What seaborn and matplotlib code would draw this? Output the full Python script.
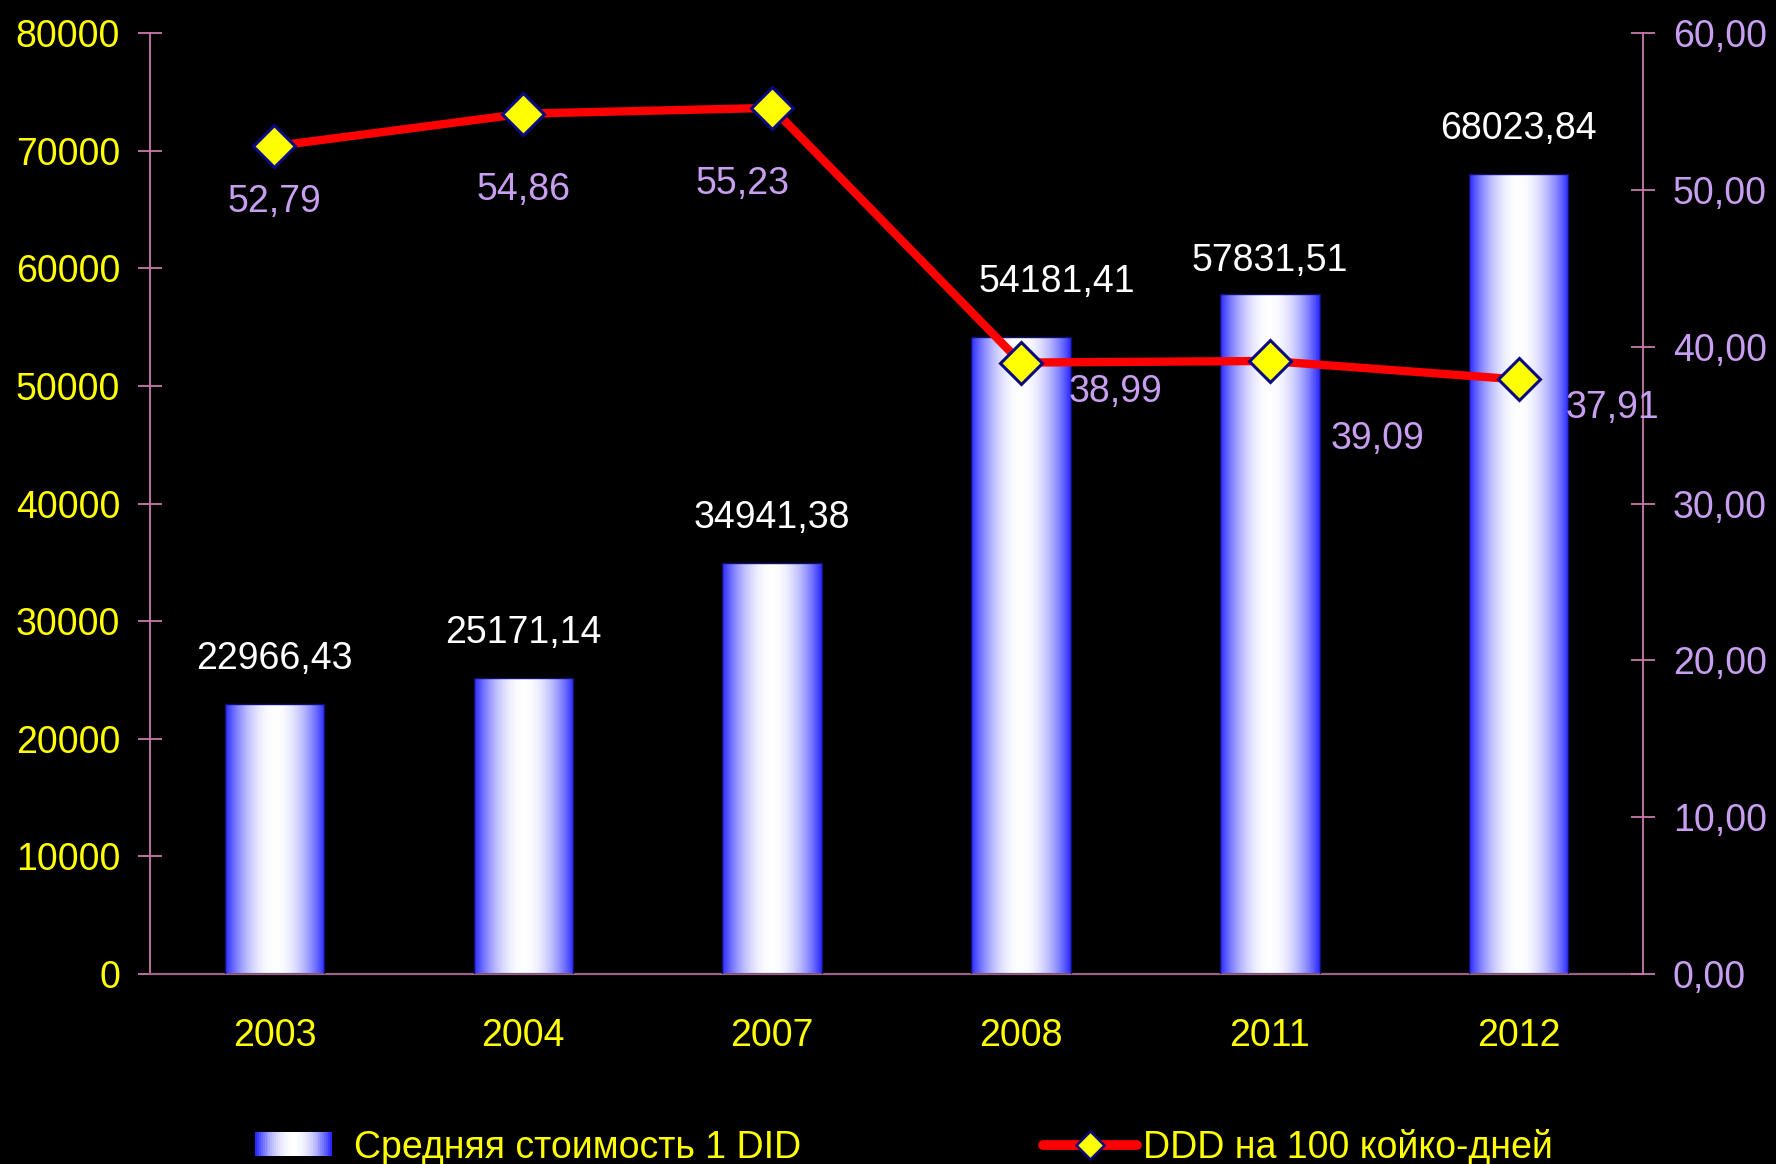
import numpy as np
import pandas as pd
import matplotlib
matplotlib.use("Agg")
import matplotlib.pyplot as plt
from matplotlib.patches import Rectangle
from matplotlib.lines import Line2D
from matplotlib.legend_handler import HandlerBase
import seaborn as sns

# ---- data ----
years = ["2003", "2004", "2007", "2008", "2011", "2012"]
avg_cost = [22966.43, 25171.14, 34941.38, 54181.41, 57831.51, 68023.84]
ddd_per_100 = [52.79, 54.86, 55.23, 38.99, 39.09, 37.91]
cost_label = "Средняя стоимость 1 DID"
ddd_label = "DDD на 100 койко-дней"

# label offsets in pixels (dx, dy)
cost_offsets = [(0, 45), (0, 45), (0, 45), (36, 55), (0, 33), (0, 45)]
ddd_offsets = [(0, -56), (0, -76), (-30, -76), (95, -29), (108, -78), (94, -29)]

sns.set_theme(style="dark")
plt.rcParams["font.family"] = ["Liberation Sans", "DejaVu Sans"]

YELLOW = "#ffff00"
LAVENDER = "#c89ef0"
PINK = "#c87aa8"
PINK_DARK = "#9a6484"
BLUE_EDGE = np.array([40, 40, 255]) / 255.0
FS = 27

df = pd.DataFrame({"year": years, "cost": avg_cost, "ddd": ddd_per_100})

fig = plt.figure(figsize=(17.76, 11.64), dpi=100, facecolor="black")
ax = fig.add_axes([0.0845, 0.1632, 0.8406, 0.8084])
ax.set_facecolor("black")

sns.barplot(data=df, x="year", y="cost", width=0.4, color="#4040ff",
            edgecolor="#10106a", linewidth=1.0, ax=ax, zorder=2)


def gradient_rgb(n=200):
    t = np.abs(np.linspace(-1, 1, n)) ** 2.0
    return (1 - t)[:, None] * np.ones(3) + t[:, None] * BLUE_EDGE


grad = gradient_rgb()[None, :, :]
for bar in ax.patches:
    x0, y0 = bar.get_x(), bar.get_y()
    w, h = bar.get_width(), bar.get_height()
    im = ax.imshow(grad, extent=(x0, x0 + w, y0, y0 + h), aspect="auto",
                   origin="lower", zorder=2.5, interpolation="bilinear")
    im.set_clip_path(bar)
    bar.set_facecolor("none")
    bar.set_zorder(3)

ax.set_xlim(-0.5, len(years) - 0.5)
ax.set_ylim(0, 80000)
ax.set_yticks(np.arange(0, 80001, 10000))
ax.set_yticklabels([f"{v:d}" for v in range(0, 80001, 10000)])
ax.set_xticks(np.arange(-0.5, len(years), 1))
ax.set_xticklabels([])
ax.set_xticks(np.arange(len(years)), minor=True)
ax.set_xticklabels(years, minor=True)
ax.set_xlabel("")
ax.set_ylabel("")
ax.grid(False)

ax.tick_params(axis="y", which="major", direction="inout", length=17, width=1.3,
               color=PINK, labelcolor=YELLOW, labelsize=FS, pad=13)
ax.tick_params(axis="x", which="major", direction="inout", length=18, width=1.3,
               color=PINK_DARK)
ax.tick_params(axis="x", which="minor", length=0, labelcolor=YELLOW,
               labelsize=FS, pad=32)

for side in ["top", "right"]:
    ax.spines[side].set_visible(False)
ax.spines["left"].set_color(PINK)
ax.spines["left"].set_linewidth(1.3)
ax.spines["bottom"].set_color(PINK_DARK)
ax.spines["bottom"].set_linewidth(1.6)

for i, v in enumerate(avg_cost):
    dx, dy = cost_offsets[i]
    ax.annotate(f"{v:.2f}".replace(".", ","), xy=(i, v), xytext=(dx, dy),
                textcoords="offset pixels", ha="center", va="center",
                color="white", fontsize=FS, zorder=5)

# secondary axis with the DDD line
ax2 = ax.twinx()
ax2.set_facecolor("none")
sns.lineplot(x=np.arange(len(years)), y=ddd_per_100, ax=ax2, color="#ff0000",
             linewidth=6, marker="D", zorder=4)
line = ax2.lines[0]
line.set_markersize(21)
line.set_markerfacecolor(YELLOW)
line.set_markeredgecolor("#0a0a80")
line.set_markeredgewidth(2.2)
line.set_solid_capstyle("round")

ax2.set_ylim(0, 60)
ax2.set_xlim(-0.5, len(years) - 0.5)
ax2.set_yticks(np.arange(0, 61, 10))
ax2.set_yticklabels([f"{v:.2f}".replace(".", ",") for v in range(0, 61, 10)])
ax2.set_ylabel("")
ax2.grid(False)
ax2.tick_params(axis="y", direction="inout", length=17, width=1.3,
                color=PINK, labelcolor=LAVENDER, labelsize=FS, pad=13)
for side in ["top", "left", "bottom"]:
    ax2.spines[side].set_visible(False)
ax2.spines["right"].set_color(PINK)
ax2.spines["right"].set_linewidth(1.3)

for i, v in enumerate(ddd_per_100):
    dx, dy = ddd_offsets[i]
    ax2.annotate(f"{v:.2f}".replace(".", ","), xy=(i, v), xytext=(dx, dy),
                 textcoords="offset pixels", ha="center", va="center",
                 color=LAVENDER, fontsize=FS, zorder=6)


# legend: gradient swatch for bars, line with diamond for DDD
class GradientSwatch(HandlerBase):
    def create_artists(self, legend, orig_handle, xdescent, ydescent,
                       width, height, fontsize, trans):
        n = 40
        sw = width * 0.82
        cols = gradient_rgb(n)
        arts = []
        for k in range(n):
            arts.append(Rectangle((-xdescent + k * sw / n, -ydescent),
                                  sw / n + 0.3, height, facecolor=cols[k],
                                  edgecolor="none", transform=trans))
        return arts


bar_handle = Rectangle((0, 0), 1, 1)
line_handle = Line2D([], [], color="#ff0000", linewidth=7, marker="D",
                     markersize=14, markerfacecolor=YELLOW,
                     markeredgecolor="#0a0a80", markeredgewidth=1.8)
leg = fig.legend([bar_handle, line_handle], [cost_label, ddd_label],
                 handler_map={Rectangle: GradientSwatch()},
                 loc="center left", bbox_to_anchor=(0.1436, 0.0145), ncol=2,
                 frameon=False, borderpad=0, borderaxespad=0,
                 handlelength=2.5, handleheight=0.6, handletextpad=0.15,
                 columnspacing=6.45,
                 prop={"family": ["Liberation Sans Narrow", "Liberation Sans"],
                       "size": FS})
for t in leg.get_texts():
    t.set_color(YELLOW)

fig.savefig("out.png", dpi=100, facecolor="black")
